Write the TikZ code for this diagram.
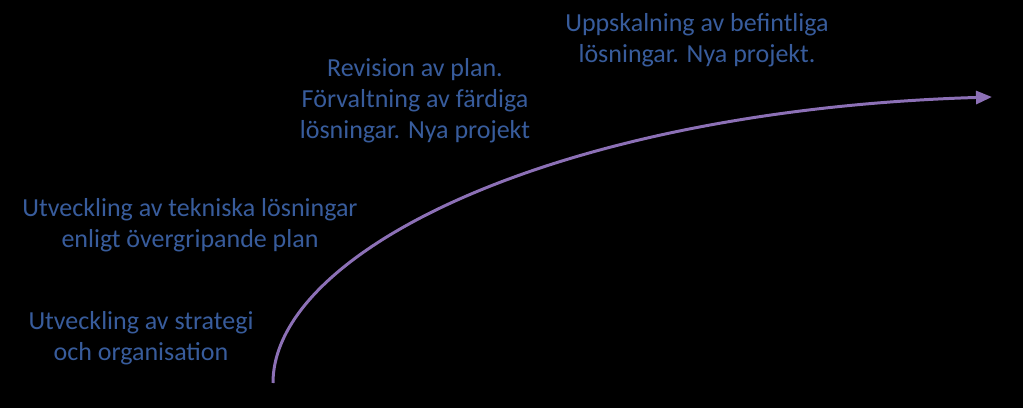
\documentclass[tikz,border=0pt]{standalone}
\usepackage{fontspec}
\setmainfont{Carlito}
\usepackage{tikz}
\usetikzlibrary{arrows.meta,positioning}
\definecolor{stageblue}{RGB}{56,92,156}
\definecolor{curvepurple}{RGB}{140,112,182}

\begin{document}
\begin{tikzpicture}[x=0.02cm, y=-0.02cm,
    stage/.style={text=stageblue, align=center, inner sep=0pt, font=\fontsize{14.8}{17.6}\selectfont},
    growth/.style={-{Triangle[length=0.32cm, width=0.26cm]}, line width=1.7pt, curvepurple}]

    % background and page size
    \fill[black] (0,0) rectangle (1023,408);
    \useasboundingbox (0,0) rectangle (1023,408);

    \node[stage] (strategy) at (141,338) {Utveckling av strategi\\och organisation};
    \node[stage] (technical) at (190,225) {Utveckling av tekniska lösningar\\enligt övergripande plan};
    \node[stage] (revision) at (415,101) {Revision av plan.\\Förvaltning av färdiga\\lösningar. Nya projekt};
    \node[stage] (scaling) at (697,40) {Uppskalning av befintliga\\lösningar. Nya projekt.};

    \coordinate (start) at (273,383);
    \coordinate (end) at (992,97);
    \draw[growth] (start) .. controls (273,250) and (560,110) .. (end);
\end{tikzpicture}
\end{document}
